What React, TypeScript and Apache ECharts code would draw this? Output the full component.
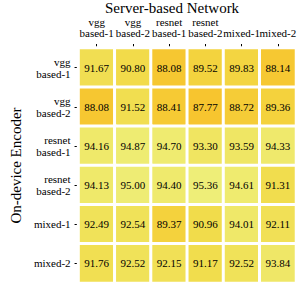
import React, { useEffect, useRef } from "react";
import * as echarts from "echarts";

const serverNets = ["vgg\nbased-1", "vgg\nbased-2", "resnet\nbased-1", "resnet\nbased-2", "mixed-1", "mixed-2"];
const deviceEncoders = ["vgg\nbased-1", "vgg\nbased-2", "resnet\nbased-1", "resnet\nbased-2", "mixed-1", "mixed-2"];

const rowVggBased1 = [91.67, 90.8, 88.08, 89.52, 89.83, 88.14];
const rowVggBased2 = [88.08, 91.52, 88.41, 87.77, 88.72, 89.36];
const rowResnetBased1 = [94.16, 94.87, 94.7, 93.3, 93.59, 94.33];
const rowResnetBased2 = [94.13, 95.0, 94.4, 95.36, 94.61, 91.31];
const rowMixed1 = [92.49, 92.54, 89.37, 90.96, 94.01, 92.11];
const rowMixed2 = [91.76, 92.52, 92.15, 91.17, 92.52, 93.84];

const rows = [rowVggBased1, rowVggBased2, rowResnetBased1, rowResnetBased2, rowMixed1, rowMixed2];

const FONT = "Liberation Serif";

export default function App() {
  const ref = useRef<HTMLDivElement>(null);
  useEffect(() => {
    if (!ref.current) return;
    const chart = echarts.init(ref.current, undefined, { renderer: "svg" });
    const data: [number, number, number][] = [];
    rows.forEach((r, yi) => r.forEach((v, xi) => data.push([xi, yi, v])));
    chart.setOption({
      animation: false,
      backgroundColor: "#ffffff",
      textStyle: { fontFamily: FONT },
      title: {
        text: "Server-based Network",
        left: 172,
        top: 0,
        padding: 0,
        textAlign: "center",
        textStyle: { fontFamily: FONT, fontSize: 15, fontWeight: "normal", color: "#000", lineHeight: 16 },
      },
      grid: {
        left: 60,
        top: 48,
        width: 236,
        height: 235,
        show: true,
        borderColor: "#000",
        borderWidth: 1,
        backgroundColor: "#ffffff",
      },
      xAxis: {
        type: "category",
        position: "top",
        data: serverNets,
        axisLine: { show: false },
        axisTick: { show: true, alignWithLabel: true, length: 4, lineStyle: { color: "#000" } },
        splitArea: { show: false },
        axisLabel: {
          interval: 0,
          fontFamily: FONT,
          fontSize: 11,
          color: "#000",
          lineHeight: 11,
          margin: 10,
          align: "center",
        },
      },
      yAxis: {
        type: "category",
        inverse: true,
        data: deviceEncoders,
        name: "On-device Encoder",
        nameLocation: "middle",
        nameRotate: 90,
        nameGap: 49,
        nameTextStyle: { fontFamily: FONT, fontSize: 15, color: "#000" },
        axisLine: { show: false },
        axisTick: { show: true, alignWithLabel: true, length: 4, lineStyle: { color: "#000" } },
        axisLabel: {
          interval: 0,
          fontFamily: FONT,
          fontSize: 11,
          color: "#000",
          lineHeight: 12,
          margin: 8,
          align: "right",
        },
      },
      visualMap: {
        show: false,
        min: 87.7,
        max: 95.4,
        inRange: { color: ["#f7c42e", "#f2d945", "#f0e35c", "#eeee78"] },
      },
      series: [
        {
          type: "heatmap",
          data,
          itemStyle: { borderColor: "#ffffff", borderWidth: 3 },
          label: {
            show: true,
            fontFamily: FONT,
            fontSize: 11,
            color: "#000",
            formatter: (p: any) => p.value[2].toFixed(2),
          },
          emphasis: { disabled: true },
        },
      ],
    });
    return () => chart.dispose();
  }, []);
  return (
    <div
      ref={ref}
      style={{ position: "fixed", left: 0, top: 0, width: 299, height: 286 }}
    />
  );
}
